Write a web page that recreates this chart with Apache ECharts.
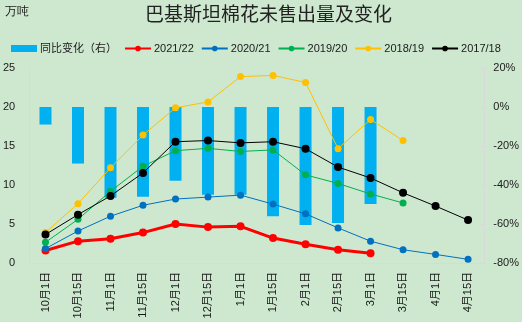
<!DOCTYPE html>
<html><head><meta charset="utf-8">
<script src="https://cdn.jsdelivr.net/npm/echarts@6/dist/echarts.min.js"></script>
<style>html,body{margin:0;padding:0;background:#CEE8CF;}#c{width:522px;height:322px;}</style>
</head><body><div id="c"></div>
<script>
const categories = ['10月1日','10月15日','11月1日','11月15日','12月1日','12月15日','1月1日','1月15日','2月1日','2月15日','3月1日','3月15日','4月1日','4月15日'];
const yoyChange = [-9, -29, -46.6, -46, -37.8, -45, -45, -56, -60.5, -59.5, -49.7, null, null, null];
const s2021 = [1.6, 2.8, 3.1, 3.9, 5.0, 4.6, 4.7, 3.2, 2.4, 1.7, 1.25, null, null, null];
const s2020 = [1.85, 4.1, 6.0, 7.4, 8.2, 8.45, 8.7, 7.55, 6.3, 4.5, 2.8, 1.7, 1.1, 0.47];
const s2019 = [2.65, 5.6, 9.2, 12.4, 14.4, 14.7, 14.3, 14.5, 11.3, 10.2, 8.85, 7.7, null, null];
const s2018 = [3.9, 7.6, 12.2, 16.4, 19.9, 20.65, 23.9, 24.05, 23.15, 14.65, 18.4, 15.7, null, null];
const s2017 = [3.65, 6.2, 8.6, 11.55, 15.55, 15.7, 15.4, 15.55, 14.65, 12.3, 10.9, 9.0, 7.3, 5.5];
const leftTicks = {min: 0, max: 25, interval: 5};
const rightTicks = {min: -80, max: 20, interval: 20};

const FONT = 'Liberation Sans, "Noto Sans CJK SC", sans-serif';
const chart = echarts.init(document.getElementById('c'));
function lineSeries(name, data, color, width, size) {
  return {name, type: 'line', data, yAxisIndex: 0, symbol: 'circle', symbolSize: size,
    lineStyle: {color, width}, itemStyle: {color}, connectNulls: false, z: 3};
}
chart.setOption({
  backgroundColor: '#CEE8CF',
  textStyle: {fontFamily: FONT},
  title: {text: '巴基斯坦棉花未售出量及变化', left: 140, top: -1,
    textStyle: {fontSize: 19, fontWeight: 'normal', color: '#222', fontFamily: '"Noto Sans CJK SC", sans-serif'}},
  graphic: [{type: 'text', left: 5, top: 6, style: {text: '万吨', fontSize: 12, fill: '#1a1a1a', font: '12px ' + FONT}}],
  legend: {left: 6, top: 38, itemWidth: 26, itemHeight: 7, itemGap: 7,
    textStyle: {fontSize: 11, color: '#1a1a1a', fontFamily: FONT, padding: [0,0,0,-2]},
    data: [{name: '同比变化（右）', icon: 'rect'}, '2021/22', '2020/21', '2019/20', '2018/19', '2017/18']},
  grid: {left: 28, right: 37, top: 68, bottom: 59},
  xAxis: {type: 'category', data: categories,
    axisLine: {lineStyle: {color: '#D9D9D9'}}, axisTick: {show: false},
    axisLabel: {rotate: 90, fontSize: 11, color: '#1a1a1a', margin: 9, interval: 0, fontFamily: FONT}},
  yAxis: [
    {type: 'value', min: leftTicks.min, max: leftTicks.max, interval: leftTicks.interval,
     splitLine: {show: false}, axisLine: {show: true, lineStyle: {color: '#D9D9D9'}},
     axisTick: {show: false}, axisLabel: {fontSize: 11, color: '#1a1a1a', margin: 14, fontFamily: FONT}},
    {type: 'value', min: rightTicks.min, max: rightTicks.max, interval: rightTicks.interval,
     splitLine: {show: false}, axisLine: {show: true, lineStyle: {color: '#D9D9D9'}},
     axisTick: {show: true, inside: true, length: 4, lineStyle: {color: '#D9D9D9'}},
     axisLabel: {fontSize: 11, color: '#1a1a1a', margin: 9, formatter: '{value}%', fontFamily: FONT}}
  ],
  series: [
    {name: '同比变化（右）', type: 'bar', data: yoyChange, yAxisIndex: 1, barWidth: 12,
     itemStyle: {color: '#00B0F0'}, z: 2},
    lineSeries('2021/22', s2021, '#FF0000', 3, 8),
    lineSeries('2020/21', s2020, '#0070C0', 1, 7),
    lineSeries('2019/20', s2019, '#00B050', 1, 7),
    lineSeries('2018/19', s2018, '#FFC000', 1, 7),
    lineSeries('2017/18', s2017, '#000000', 1, 8)
  ]
});
</script></body></html>
